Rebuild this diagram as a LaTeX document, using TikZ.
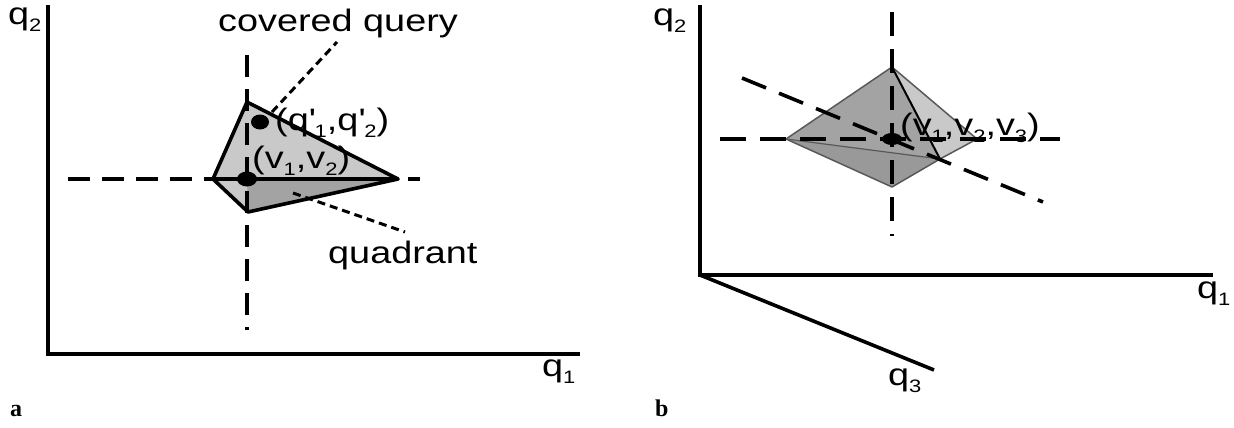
\documentclass[tikz,border=0pt]{standalone}
\usepackage{fontspec}
\setmainfont{Liberation Sans}[FakeStretch=1.22]
\newfontfamily\tagfont{Liberation Serif}
\usepackage{xcolor}
\definecolor{facelight}{gray}{0.79}
\definecolor{facemid}{gray}{0.64}
\definecolor{facedark}{gray}{0.60}
\definecolor{edgegray}{gray}{0.35}
\newcommand{\lowix}[1]{\raisebox{-7pt}{\fontsize{18}{18}\selectfont #1}}
\newcommand{\pr}{\textquotesingle}

\begin{document}
\begin{tikzpicture}[x=1pt,y=-1pt,
  axis/.style={line width=4pt},
  guide/.style={line width=3.6pt,dash pattern=on 22pt off 12pt},
  leader/.style={line width=3pt,dash pattern=on 8pt off 5pt},
  lbl/.style={font=\fontsize{31}{34}\selectfont,inner sep=0pt,anchor=base west},
  tag/.style={font=\tagfont\bfseries\fontsize{24}{26}\selectfont,inner sep=0pt,anchor=base west}]
\useasboundingbox (0,0) rectangle (1234,428);
% ---- panel a: axes
\coordinate (oa) at (48,354);
\draw[axis] (48,5) -- (oa) -- (580,354);
\node[lbl] (qa2) at (8,25) {q\lowix{2}};
\node[lbl] (qa1) at (542,376) {q\lowix{1}};
% ---- panel a: quadrant region
\coordinate (ptop) at (247,102); \coordinate (plft) at (213,179);
\coordinate (pbot) at (248,212); \coordinate (prgt) at (398,179);
\coordinate (pv)   at (247,179); \coordinate (pq)   at (260,122);
\fill[facelight] (plft) -- (ptop) -- (prgt) -- (pbot) -- cycle;
\fill[facemid] (pv) -- (prgt) -- (pbot) -- cycle;
\draw[line width=3.6pt,line join=round] (ptop) -- (prgt) -- (pbot) -- (plft) -- cycle;
\draw[line width=3.6pt] (plft) -- (prgt);
\draw[guide] (68,179) -- (420,179);
\draw[guide] (247,55) -- (247,330);
\fill (pv) ellipse [x radius=10, y radius=7.5];
\fill (pq) ellipse [x radius=9, y radius=7.5];
\node[lbl] (vlab) at (252,168) {(v\lowix{1},v\lowix{2})};
\node[lbl] (qlab) at (275,130) {(q\pr\lowix{1},q\pr\lowix{2})};
% ---- panel a: call-outs
\node[lbl] (cover) at (218,32) {covered query};
\node[lbl] (quad) at (328,263) {quadrant};
\coordinate (cqa) at (272,112); \coordinate (cqb) at (337,42);
\coordinate (qda) at (293,193); \coordinate (qdb) at (405,232);
\draw[leader] (cqa) -- (cqb);
\draw[leader] (qda) -- (qdb);
\node[tag] (taga) at (10,416) {a};
% ---- panel b: axes
\coordinate (ob) at (700,275);
\draw[axis,line width=3.6pt] (700,5) -- (ob) -- (1213,275);
\draw[axis,line width=3.6pt] (ob) -- (934,370);
\node[lbl] (qb2) at (653,26) {q\lowix{2}};
\node[lbl] (qb1) at (1197,298) {q\lowix{1}};
\node[lbl] (qb3) at (888,385) {q\lowix{3}};
% ---- panel b: octahedron
\coordinate (otop) at (892,67);  \coordinate (olft) at (786,139);
\coordinate (orgt) at (977,139); \coordinate (ofrt) at (940,159);
\coordinate (obot) at (892,187); \coordinate (octr) at (892,139);
\fill[facemid] (olft) -- (otop) -- (ofrt) -- cycle;
\fill[facelight] (otop) -- (orgt) -- (ofrt) -- cycle;
\fill[facedark] (olft) -- (ofrt) -- (obot) -- cycle;
\draw[edgegray,line width=1.5pt,line join=round] (olft) -- (otop) -- (orgt) -- (ofrt) -- (obot) -- cycle;
\draw[edgegray,line width=1.2pt] (olft) -- (ofrt);
\draw[line width=2pt] (otop) -- (ofrt);
\draw[guide,dash pattern=on 26pt off 14pt] (720,139) -- (1060,139);
\draw[guide,dash pattern=on 24pt off 13pt] (892,12) -- (892,236);
\draw[guide,dash pattern=on 26pt off 14pt] (742,78) -- (1043,202);
\fill (octr) ellipse [x radius=10, y radius=6];
\node[lbl] (vvlab) at (900,135) {(v\lowix{1},v\lowix{2},v\lowix{3})};
\node[tag] (tagb) at (655,416) {b};
\end{tikzpicture}
\end{document}
